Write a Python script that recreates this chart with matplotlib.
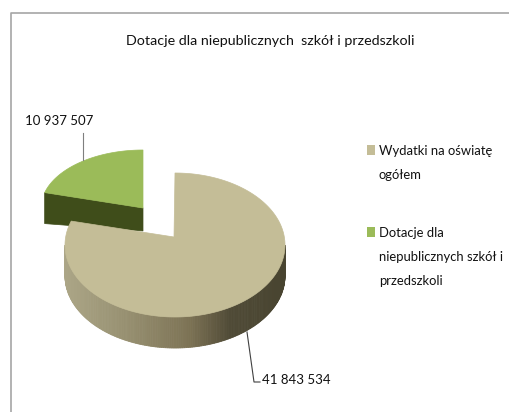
import numpy as np
import matplotlib
matplotlib.use("Agg")
import matplotlib.pyplot as plt
from matplotlib.patches import Polygon, Rectangle

title = "Dotacje dla niepublicznych  szkół i przedszkoli"
categories = ["Wydatki na oświatę\nogółem", "Dotacje dla\nniepublicznych szkół i\nprzedszkoli"]
values = [41843534, 10937507]
value_labels = ["41 843 534", "10 937 507"]
colors = ["#C4BD97", "#9BBB59"]

plt.rcParams["font.family"] = ["Lato", "DejaVu Sans"]

fig = plt.figure(figsize=(5.09, 4.12), dpi=100)
ax = fig.add_axes([0, 0, 1, 1])
ax.set_xlim(0, 509)
ax.set_ylim(412, 0)
ax.axis("off")

# chart frame, runs off the right and bottom of the crop
ax.plot([509, 11, 11], [13, 13, 412], color="#a6a6a6", lw=1.2)

# pie starts at 12 o'clock and goes clockwise
share = 360 * np.array(values) / sum(values)
main_end = 90 - share[0]


def arc(cx, cy, rx, ry, a0, a1, n=200):
    t = np.radians(np.linspace(a0, a1, n))
    return np.column_stack([cx + rx * np.cos(t), cy - ry * np.sin(t)])


# green slice, pulled out to the upper left
gx, gy, grx, gry = 143, 208, 102, 58
gdepth = 23
green_arc = arc(gx, gy, grx, gry, 90, main_end + 360)
corner = green_arc[-1]
side = [(gx, gy), tuple(corner), (corner[0], corner[1] + gdepth + 8), (gx, gy + gdepth)]
ax.add_patch(Polygon(side, closed=True, fc="#3F4D1A", ec="#3F4D1A", lw=0.5))
ax.add_patch(Polygon(np.vstack([[gx, gy], green_arc]), closed=True, fc=colors[1], ec=colors[1], lw=0.5))

# main slice
cx, cy, rx, ry = 175, 245, 110, 72
depth = 31
stops_x = [65, 130, 190, 230, 285]
stops_c = np.array([[172, 166, 135], [150, 143, 112], [125, 115, 85], [80, 75, 55], [72, 68, 48]]) / 255
low = arc(cx, cy, rx, ry, 180, 360, 181)
for i in range(len(low) - 1):
    a, b = low[i], low[i + 1]
    c = [np.interp((a[0] + b[0]) / 2, stops_x, stops_c[:, k]) for k in range(3)]
    ax.add_patch(Polygon([a, b, b + [0, depth], a + [0, depth]], closed=True, fc=c, ec=c, lw=0.6))

# end of the arc nudged by 4 degrees for the perspective of the 3d pie
main_arc = arc(cx, cy, rx, ry, 90, main_end - 4, 300)
apex = [174, 237]
ax.add_patch(Polygon(np.vstack([apex, main_arc]), closed=True, fc=colors[0], ec=colors[0], lw=0.5))

# leader lines and value labels
ax.plot([83, 83], [133, 160], color="#7f7f7f", lw=0.8)
ax.plot([247, 254, 260], [332, 382, 382], color="#404040", lw=0.8)
ax.text(25, 121, value_labels[1], fontsize=9.5, va="center", ha="left", color="#111111")
ax.text(262, 380, value_labels[0], fontsize=9.5, va="center", ha="left", color="#111111")

ax.text(270, 41, title, fontsize=10.3, va="center", ha="center", color="#111111")

# legend
for y, label, col in zip([145, 227], categories, colors):
    ax.add_patch(Rectangle((367, y), 8, 10, fc=col, ec="none"))
    ax.text(379, y, label, fontsize=9.4, va="top", ha="left", linespacing=2.2, color="#111111")

fig.savefig("out.png", dpi=100)
